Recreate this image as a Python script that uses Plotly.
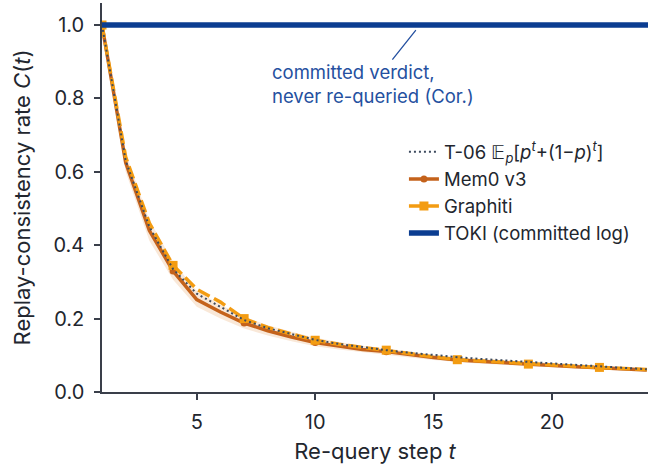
import plotly.graph_objects as go

t = list(range(1, 25))
mem0 = [1.0, 0.625, 0.44, 0.33, 0.252, 0.218, 0.188, 0.167, 0.15, 0.135, 0.125, 0.116,
        0.11, 0.101, 0.094, 0.087, 0.083, 0.08, 0.077, 0.072, 0.069, 0.066, 0.063, 0.06]
mem0_lo = [0.99, 0.6, 0.412, 0.306, 0.232, 0.2, 0.173, 0.154, 0.138, 0.125, 0.116, 0.108,
           0.102, 0.094, 0.087, 0.081, 0.077, 0.074, 0.071, 0.067, 0.064, 0.061, 0.058, 0.055]
mem0_hi = [1.0, 0.652, 0.468, 0.355, 0.275, 0.238, 0.205, 0.182, 0.164, 0.148, 0.136, 0.126,
           0.119, 0.109, 0.101, 0.094, 0.09, 0.086, 0.083, 0.078, 0.075, 0.071, 0.068, 0.065]
graphiti = [1.0, 0.64, 0.46, 0.345, 0.28, 0.245, 0.2, 0.176, 0.158, 0.141, 0.13, 0.121,
            0.114, 0.105, 0.096, 0.088, 0.084, 0.08, 0.076, 0.073, 0.07, 0.067, 0.064, 0.061]
t06 = [1.0, 0.63, 0.45, 0.335, 0.268, 0.232, 0.196, 0.174, 0.158, 0.142, 0.131, 0.122,
       0.114, 0.107, 0.1, 0.095, 0.09, 0.086, 0.082, 0.078, 0.074, 0.07, 0.066, 0.062]
toki_t = [1, 24.05]
toki = [1.0, 1.0]
marker_every = 3

x_ticks = [5, 10, 15, 20]
y_ticks = [0.0, 0.2, 0.4, 0.6, 0.8, 1.0]

C_MEM0 = "#c4621b"
C_GRAPH = "#f39c12"
C_T06 = "#3c4a5e"
C_TOKI = "#0b3d91"
C_TEXT = "#22262e"
C_AXIS = "#3a3f4a"

mk_t = t[::marker_every]
mem0_mk = mem0[::marker_every]
graphiti_mk = graphiti[::marker_every]

fig = go.Figure()
# band
fig.add_trace(go.Scatter(x=t, y=mem0_hi, mode="lines", line=dict(width=0), showlegend=False, hoverinfo="skip"))
fig.add_trace(go.Scatter(x=t, y=mem0_lo, mode="lines", line=dict(width=0), fill="tonexty",
                         fillcolor="rgba(225,140,60,0.2)", showlegend=False, hoverinfo="skip"))
# Mem0
fig.add_trace(go.Scatter(x=t, y=mem0, mode="lines", line=dict(color=C_MEM0, width=3.5), showlegend=False))
fig.add_trace(go.Scatter(x=mk_t, y=mem0_mk, mode="markers", marker=dict(color=C_MEM0, size=7, symbol="circle"),
                         showlegend=False))
# Graphiti
fig.add_trace(go.Scatter(x=t, y=graphiti, mode="lines", line=dict(color=C_GRAPH, width=3.5, dash="13px,5px"),
                         showlegend=False))
fig.add_trace(go.Scatter(x=mk_t, y=graphiti_mk, mode="markers", marker=dict(color=C_GRAPH, size=9, symbol="square"),
                         showlegend=False))
# T-06
fig.add_trace(go.Scatter(x=t, y=t06, mode="lines", line=dict(color=C_T06, width=2, dash="2px,3px"), showlegend=False))
# TOKI
fig.add_trace(go.Scatter(x=toki_t, y=toki, mode="lines", line=dict(color=C_TOKI, width=5.5), showlegend=False,
                         cliponaxis=False))

# legend entries
fig.add_trace(go.Scatter(x=[None], y=[None], mode="lines", line=dict(color=C_T06, width=2, dash="2px,3px"),
                         name="T-06 𝔼<sub><i>p</i></sub>[<i>p</i><sup><i>t</i></sup>+(1−<i>p</i>)<sup><i>t</i></sup>]"))
fig.add_trace(go.Scatter(x=[None], y=[None], mode="lines+markers", line=dict(color=C_MEM0, width=3.5),
                         marker=dict(color=C_MEM0, size=7), name="Mem0 v3"))
fig.add_trace(go.Scatter(x=[None], y=[None], mode="lines+markers", line=dict(color=C_GRAPH, width=3.5, dash="13px,5px"),
                         marker=dict(color=C_GRAPH, size=9, symbol="square"), name="Graphiti"))
fig.add_trace(go.Scatter(x=[None], y=[None], mode="lines", line=dict(color=C_TOKI, width=5.5),
                         name="TOKI (committed log)"))

fig.add_annotation(x=14.25, y=0.986, xref="x", yref="y", ax=-43, ay=54, axref="pixel", ayref="pixel",
                   text="committed verdict,<br>never re-queried (Cor.)", showarrow=True, arrowhead=0,
                   arrowwidth=1.3, arrowcolor="#2450a0", align="left",
                   font=dict(family="Inter", size=18.5, color="#2450a0"))

fig.update_layout(
    width=655, height=466,
    margin=dict(l=102, r=7, t=3, b=74),
    plot_bgcolor="white", paper_bgcolor="white",
    font=dict(family="Inter", size=18, color=C_TEXT),
    legend=dict(x=0.553, y=0.665, xanchor="left", yanchor="top", bgcolor="rgba(0,0,0,0)",
                traceorder="normal",
                font=dict(family="Inter", size=18.5, color=C_TEXT), tracegroupgap=0),
    xaxis=dict(range=[1, 24.05], tickvals=x_ticks, showline=True, linecolor=C_AXIS, linewidth=1.5,
               ticks="outside", ticklen=6, tickwidth=1.5, tickcolor=C_AXIS, showgrid=False, zeroline=False,
               ticklabelstandoff=5,
               tickfont=dict(size=20), title=dict(text="Re-query step <i>t</i>", font=dict(size=22), standoff=11)),
    yaxis=dict(range=[0, 1.06], tickvals=y_ticks, tickformat=".1f", showline=True, linecolor=C_AXIS, linewidth=1.5,
               ticks="outside", ticklen=6, tickwidth=1.5, tickcolor=C_AXIS, showgrid=False, zeroline=False,
               ticklabelstandoff=6,
               tickfont=dict(size=20),
               title=dict(text="Replay-consistency rate <i>C</i>(<i>t</i>)", font=dict(size=22), standoff=17)),
)

fig.write_html("out.html")
